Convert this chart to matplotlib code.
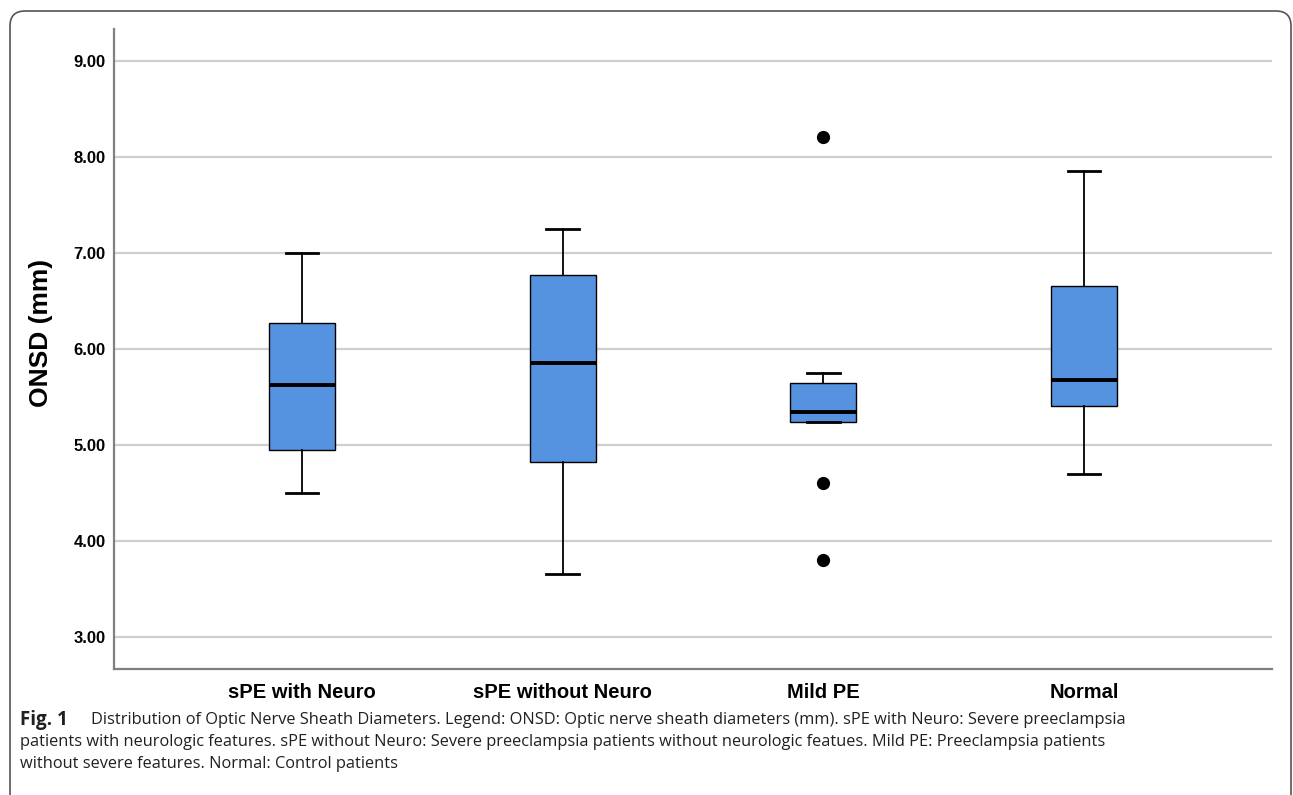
import matplotlib.pyplot as plt
from matplotlib.patches import FancyBboxPatch

# box plot summary values (mm)
groups = ['sPE with Neuro', 'sPE without Neuro', 'Mild PE', 'Normal']
whisker_lo = [4.50, 3.65, 5.24, 4.70]
q1 = [4.95, 4.82, 5.24, 5.40]
medians = [5.62, 5.85, 5.34, 5.67]
q3 = [6.27, 6.77, 5.64, 6.65]
whisker_hi = [7.00, 7.25, 5.75, 7.85]
outliers = [[], [], [8.20, 4.60, 3.80], []]
yticks = [3, 4, 5, 6, 7, 8, 9]

fig = plt.figure(figsize=(12.93, 7.95), dpi=100)
ax = fig.add_axes([114/1293, 1 - 669/795, (1272 - 114)/1293, (669 - 29)/795])

stats = []
for i in range(len(groups)):
    stats.append(dict(med=medians[i], q1=q1[i], q3=q3[i],
                      whislo=whisker_lo[i], whishi=whisker_hi[i],
                      fliers=outliers[i]))

ax.bxp(stats, positions=range(1, len(groups) + 1), widths=0.253,
       capwidths=0.124, patch_artist=True,
       boxprops=dict(facecolor='#5592df', edgecolor='black', linewidth=1.0),
       medianprops=dict(color='black', linewidth=2.8),
       whiskerprops=dict(color='black', linewidth=1.3),
       capprops=dict(color='black', linewidth=2.0),
       flierprops=dict(marker='o', markerfacecolor='black',
                       markeredgecolor='black', markersize=8.5))

ax.set_xlim(0.28, 4.72)
ax.set_ylim(2.664, 9.33)
ax.set_yticks(yticks)
ax.set_yticklabels(['%.2f' % v for v in yticks], fontsize=12,
                   fontweight='heavy', family='Liberation Sans')
ax.set_xticks(range(1, len(groups) + 1))
ax.set_xticklabels(groups, fontsize=14.5, fontweight='bold',
                   family='Liberation Sans')
ax.tick_params(axis='both', length=0)
ax.tick_params(axis='x', pad=10)
ax.tick_params(axis='y', pad=6)
ax.yaxis.grid(True, color='#cfcfcf', linewidth=1.6)
ax.set_axisbelow(True)
for s in ['top', 'right']:
    ax.spines[s].set_visible(False)
for s in ['left', 'bottom']:
    ax.spines[s].set_color('#808080')
    ax.spines[s].set_linewidth(1.6)

fig.text(41/1293, 1 - 333/795, 'ONSD (mm)', rotation=90, ha='center',
         va='center', fontsize=19, fontweight='bold', family='Liberation Sans')

# caption
cap_kw = dict(family='Open Sans', color='#231f20', va='center')
fig.text(20/1293, 1 - 720/795, 'Fig. 1', fontweight='bold', fontsize=13.5, **cap_kw)
fig.text(91/1293, 1 - 720/795,
         'Distribution of Optic Nerve Sheath Diameters. Legend: ONSD: Optic nerve '
         'sheath diameters (mm). sPE with Neuro: Severe preeclampsia',
         fontsize=11.8, **cap_kw)
fig.text(20/1293, 1 - 742/795,
         'patients with neurologic features. sPE without Neuro: Severe preeclampsia '
         'patients without neurologic featues. Mild PE: Preeclampsia patients',
         fontsize=11.8, **cap_kw)
fig.text(20/1293, 1 - 764/795,
         'without severe features. Normal: Control patients', fontsize=11.8, **cap_kw)

# rounded frame around the figure
frame = FancyBboxPatch((0.10, -0.3), 12.81, 8.14,
                       boxstyle='round,pad=0,rounding_size=0.15',
                       transform=fig.dpi_scale_trans, facecolor='none',
                       edgecolor='#555555', linewidth=1.2, clip_on=False)
fig.patches.append(frame)

fig.savefig('out.png', dpi=100)
